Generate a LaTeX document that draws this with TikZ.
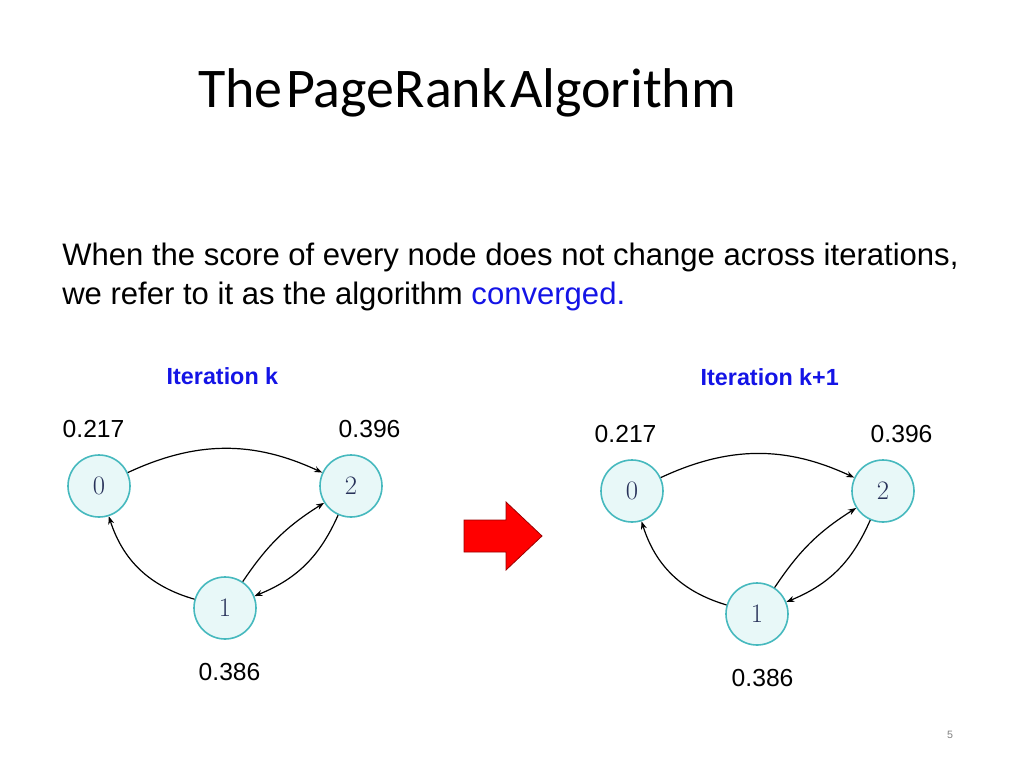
\documentclass[tikz,border=0pt]{standalone}
\usepackage{fontspec}
\setmainfont{Liberation Sans}
\newfontfamily\titlefont{Carlito}
\newfontfamily\lmfont{Latin Modern Roman}
\usetikzlibrary{arrows.meta}
\definecolor{nodefill}{RGB}{232,248,248}
\definecolor{nodeedge}{RGB}{70,185,190}
\definecolor{numcol}{RGB}{40,50,90}
\definecolor{itblue}{RGB}{20,20,230}
\tikzset{
 gnode/.style={circle,draw=nodeedge,fill=nodefill,line width=1.2pt,minimum size=46.5pt,inner sep=0pt,font=\fontsize{20}{20}\lmfont,text=numcol},
 edge/.style={-{Stealth[length=6pt,width=4.5pt]},line width=0.9pt},
 score/.style={font=\fontsize{18.5}{18.5}\selectfont,anchor=west},
 itlabel/.style={font=\fontsize{17.5}{17.5}\selectfont\bfseries,text=itblue,anchor=west}
}
\begin{document}
\begin{tikzpicture}[x=0.75pt,y=-0.75pt]
\useasboundingbox (0,0) rectangle (1024,768);
\node[anchor=west,font=\fontsize{42}{42}\titlefont,inner sep=0pt] (title) at (198,93) {The\hspace{0.06em}PageRank\hspace{0.06em}Algorithm};
\node[anchor=north west,align=left,font=\fontsize{23.3}{29}\selectfont,inner sep=0pt] (body) at (62,243) {When the score of every node does not change across iterations,\\we refer to it as the algorithm \textcolor{itblue}{converged.}};
\node[itlabel] (itk) at (162,376) {Iteration k};
\node[itlabel] (itk1) at (696,377) {Iteration k+1};
% left graph
\node[gnode] (a0) at (99,486) {0};
\node[gnode] (a2) at (351,486) {2};
\node[gnode] (a1) at (225,608) {1};
\draw[edge] (a0) to[bend left=25] (a2);
\draw[edge] (a1) to[bend left=28] (a0);
\draw[edge] (a1) to[bend left=12] (a2);
\draw[edge] (a2) to[bend left=22] (a1);
\node[score] (s0) at (58,429) {0.217};
\node[score] (s2) at (334,429) {0.396};
\node[score] (s1) at (194,672) {0.386};
% right graph
\node[gnode] (b0) at (632,491) {0};
\node[gnode] (b2) at (883,491) {2};
\node[gnode] (b1) at (757,614) {1};
\draw[edge] (b0) to[bend left=25] (b2);
\draw[edge] (b1) to[bend left=28] (b0);
\draw[edge] (b1) to[bend left=12] (b2);
\draw[edge] (b2) to[bend left=22] (b1);
\node[score] (t0) at (590,434) {0.217};
\node[score] (t2) at (866,434) {0.396};
\node[score] (t1) at (727,678) {0.386};
% red arrow
\draw[fill=red,draw=red!60!black,line width=0.6pt] (464,520) -- (506,520) -- (506,502) -- (542,536) -- (506,570) -- (506,552) -- (464,552) -- cycle;
\node[font=\fontsize{8}{8}\selectfont,text=gray] (pg) at (950,735) {5};
\end{tikzpicture}
\end{document}
